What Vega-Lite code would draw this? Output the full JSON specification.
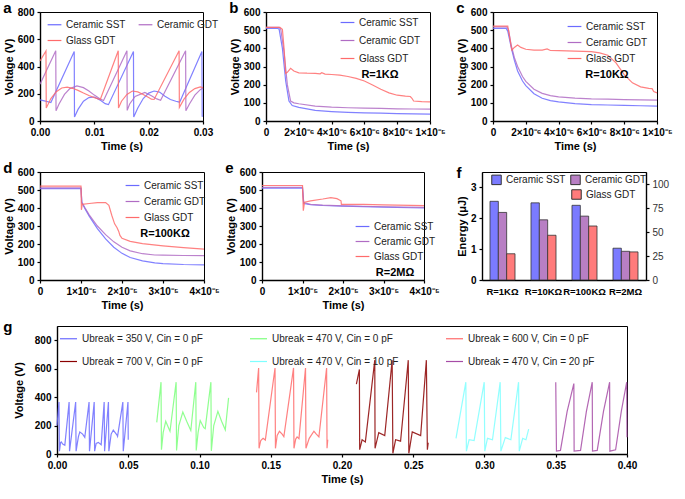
{
"$schema": "https://vega.github.io/schema/vega-lite/v6.json",
"padding": {"left": 2, "top": 0, "right": 2, "bottom": 2},
"config": {
  "font": "Liberation Sans",
  "view": {"stroke": "black", "strokeWidth": 1},
  "axis": {"domainColor": "black", "domainWidth": 1.4, "tickColor": "black", "tickSize": 3, "tickWidth": 1.2, "labelFont": "Liberation Sans", "labelFontSize": 10, "labelFontWeight": "bold", "labelColor": "black", "titleFont": "Liberation Sans", "titleFontSize": 11, "titleFontWeight": "bold", "titleColor": "black", "grid": false, "labelPadding": 3, "titlePadding": 3, "labelFlush": false, "labelOverlap": false},
  "legend": {"labelFont": "Liberation Sans", "labelFontSize": 10, "labelColor": "#222", "symbolType": "stroke", "symbolStrokeWidth": 1.5, "symbolSize": 190, "rowPadding": 4, "padding": 0, "titleFont": "Liberation Sans", "titleFontSize": 11, "titleFontWeight": "bold", "titleColor": "black", "titleOrient": "bottom", "titleAnchor": "middle", "titlePadding": 5},
  "title": {"anchor": "start", "frame": "bounds", "fontSize": 15, "fontWeight": "bold", "font": "Liberation Sans", "offset": 0, "baseline": "alphabetic", "dy": 13, "color": "black"},
  "line": {"strokeWidth": 1.2, "opacity": 0.85}
},
"datasets": {
  "a": [
    {"t":0,"v":155,"s":"Ceramic SST"},{"t":0.001,"v":146,"s":"Ceramic SST"},{"t":0.002,"v":136,"s":"Ceramic SST"},{"t":0.0063,"v":510,"s":"Ceramic SST"},{"t":0.00635,"v":30,"s":"Ceramic SST"},{"t":0.007,"v":85,"s":"Ceramic SST"},{"t":0.008,"v":145,"s":"Ceramic SST"},{"t":0.009,"v":172,"s":"Ceramic SST"},{"t":0.010,"v":176,"s":"Ceramic SST"},{"t":0.011,"v":155,"s":"Ceramic SST"},{"t":0.012,"v":127,"s":"Ceramic SST"},{"t":0.0126,"v":120,"s":"Ceramic SST"},{"t":0.0172,"v":510,"s":"Ceramic SST"},{"t":0.01725,"v":30,"s":"Ceramic SST"},{"t":0.018,"v":95,"s":"Ceramic SST"},{"t":0.019,"v":165,"s":"Ceramic SST"},{"t":0.020,"v":205,"s":"Ceramic SST"},{"t":0.021,"v":220,"s":"Ceramic SST"},{"t":0.022,"v":212,"s":"Ceramic SST"},{"t":0.023,"v":182,"s":"Ceramic SST"},{"t":0.024,"v":158,"s":"Ceramic SST"},{"t":0.025,"v":145,"s":"Ceramic SST"},{"t":0.0257,"v":138,"s":"Ceramic SST"},{"t":0.0298,"v":510,"s":"Ceramic SST"},{"t":0.02985,"v":35,"s":"Ceramic SST"},{"t":0.030,"v":35,"s":"Ceramic SST"},
    {"t":0,"v":270,"s":"Ceramic GDT"},{"t":0.0029,"v":515,"s":"Ceramic GDT"},{"t":0.00295,"v":75,"s":"Ceramic GDT"},{"t":0.0035,"v":125,"s":"Ceramic GDT"},{"t":0.0045,"v":195,"s":"Ceramic GDT"},{"t":0.0055,"v":238,"s":"Ceramic GDT"},{"t":0.0068,"v":258,"s":"Ceramic GDT"},{"t":0.008,"v":245,"s":"Ceramic GDT"},{"t":0.009,"v":220,"s":"Ceramic GDT"},{"t":0.010,"v":190,"s":"Ceramic GDT"},{"t":0.011,"v":163,"s":"Ceramic GDT"},{"t":0.0117,"v":150,"s":"Ceramic GDT"},{"t":0.016,"v":515,"s":"Ceramic GDT"},{"t":0.01605,"v":78,"s":"Ceramic GDT"},{"t":0.0165,"v":125,"s":"Ceramic GDT"},{"t":0.0175,"v":180,"s":"Ceramic GDT"},{"t":0.0193,"v":210,"s":"Ceramic GDT"},{"t":0.0205,"v":185,"s":"Ceramic GDT"},{"t":0.0215,"v":162,"s":"Ceramic GDT"},{"t":0.0222,"v":152,"s":"Ceramic GDT"},{"t":0.0268,"v":515,"s":"Ceramic GDT"},{"t":0.02685,"v":75,"s":"Ceramic GDT"},{"t":0.0275,"v":125,"s":"Ceramic GDT"},{"t":0.0285,"v":190,"s":"Ceramic GDT"},{"t":0.0295,"v":230,"s":"Ceramic GDT"},{"t":0.030,"v":242,"s":"Ceramic GDT"},
    {"t":0,"v":440,"s":"Glass GDT"},{"t":0.0011,"v":515,"s":"Glass GDT"},{"t":0.00115,"v":95,"s":"Glass GDT"},{"t":0.002,"v":165,"s":"Glass GDT"},{"t":0.003,"v":215,"s":"Glass GDT"},{"t":0.004,"v":242,"s":"Glass GDT"},{"t":0.005,"v":248,"s":"Glass GDT"},{"t":0.006,"v":240,"s":"Glass GDT"},{"t":0.007,"v":225,"s":"Glass GDT"},{"t":0.008,"v":205,"s":"Glass GDT"},{"t":0.009,"v":187,"s":"Glass GDT"},{"t":0.010,"v":172,"s":"Glass GDT"},{"t":0.0111,"v":158,"s":"Glass GDT"},{"t":0.0144,"v":515,"s":"Glass GDT"},{"t":0.01445,"v":95,"s":"Glass GDT"},{"t":0.015,"v":145,"s":"Glass GDT"},{"t":0.016,"v":195,"s":"Glass GDT"},{"t":0.017,"v":220,"s":"Glass GDT"},{"t":0.018,"v":214,"s":"Glass GDT"},{"t":0.019,"v":195,"s":"Glass GDT"},{"t":0.020,"v":172,"s":"Glass GDT"},{"t":0.0205,"v":160,"s":"Glass GDT"},{"t":0.021,"v":158,"s":"Glass GDT"},{"t":0.0256,"v":515,"s":"Glass GDT"},{"t":0.02565,"v":100,"s":"Glass GDT"},{"t":0.0265,"v":160,"s":"Glass GDT"},{"t":0.0275,"v":210,"s":"Glass GDT"},{"t":0.0285,"v":238,"s":"Glass GDT"},{"t":0.0295,"v":250,"s":"Glass GDT"},{"t":0.030,"v":245,"s":"Glass GDT"}
  ],
  "b": [
    {"t":0,"v":510,"s":"Ceramic SST"},{"t":0.7e-6,"v":510,"s":"Ceramic SST"},{"t":0.8e-6,"v":505,"s":"Ceramic SST"},{"t":1.0e-6,"v":400,"s":"Ceramic SST"},{"t":1.2e-6,"v":220,"s":"Ceramic SST"},{"t":1.4e-6,"v":110,"s":"Ceramic SST"},{"t":1.6e-6,"v":85,"s":"Ceramic SST"},{"t":2e-6,"v":75,"s":"Ceramic SST"},{"t":3e-6,"v":58,"s":"Ceramic SST"},{"t":4e-6,"v":52,"s":"Ceramic SST"},{"t":5e-6,"v":48,"s":"Ceramic SST"},{"t":6e-6,"v":45,"s":"Ceramic SST"},{"t":7e-6,"v":43,"s":"Ceramic SST"},{"t":8e-6,"v":41,"s":"Ceramic SST"},{"t":9e-6,"v":39,"s":"Ceramic SST"},{"t":1e-5,"v":38,"s":"Ceramic SST"},
    {"t":0,"v":515,"s":"Ceramic GDT"},{"t":0.8e-6,"v":515,"s":"Ceramic GDT"},{"t":0.9e-6,"v":505,"s":"Ceramic GDT"},{"t":1.1e-6,"v":380,"s":"Ceramic GDT"},{"t":1.3e-6,"v":200,"s":"Ceramic GDT"},{"t":1.5e-6,"v":110,"s":"Ceramic GDT"},{"t":1.7e-6,"v":100,"s":"Ceramic GDT"},{"t":2e-6,"v":95,"s":"Ceramic GDT"},{"t":3e-6,"v":82,"s":"Ceramic GDT"},{"t":4e-6,"v":76,"s":"Ceramic GDT"},{"t":5e-6,"v":73,"s":"Ceramic GDT"},{"t":6e-6,"v":71,"s":"Ceramic GDT"},{"t":7e-6,"v":69,"s":"Ceramic GDT"},{"t":8e-6,"v":67,"s":"Ceramic GDT"},{"t":9e-6,"v":66,"s":"Ceramic GDT"},{"t":1e-5,"v":65,"s":"Ceramic GDT"},
    {"t":0,"v":515,"s":"Glass GDT"},{"t":0.85e-6,"v":515,"s":"Glass GDT"},{"t":1.0e-6,"v":505,"s":"Glass GDT"},{"t":1.1e-6,"v":400,"s":"Glass GDT"},{"t":1.2e-6,"v":262,"s":"Glass GDT"},{"t":1.3e-6,"v":268,"s":"Glass GDT"},{"t":1.5e-6,"v":290,"s":"Glass GDT"},{"t":1.7e-6,"v":275,"s":"Glass GDT"},{"t":2e-6,"v":265,"s":"Glass GDT"},{"t":2.5e-6,"v":263,"s":"Glass GDT"},{"t":3e-6,"v":262,"s":"Glass GDT"},{"t":3.3e-6,"v":260,"s":"Glass GDT"},{"t":3.4e-6,"v":266,"s":"Glass GDT"},{"t":3.6e-6,"v":258,"s":"Glass GDT"},{"t":4e-6,"v":256,"s":"Glass GDT"},{"t":4.5e-6,"v":252,"s":"Glass GDT"},{"t":5e-6,"v":245,"s":"Glass GDT"},{"t":5.5e-6,"v":235,"s":"Glass GDT"},{"t":6e-6,"v":220,"s":"Glass GDT"},{"t":6.5e-6,"v":198,"s":"Glass GDT"},{"t":7e-6,"v":175,"s":"Glass GDT"},{"t":7.5e-6,"v":155,"s":"Glass GDT"},{"t":8e-6,"v":142,"s":"Glass GDT"},{"t":8.5e-6,"v":137,"s":"Glass GDT"},{"t":8.8e-6,"v":135,"s":"Glass GDT"},{"t":8.9e-6,"v":125,"s":"Glass GDT"},{"t":9e-6,"v":110,"s":"Glass GDT"},{"t":9.5e-6,"v":107,"s":"Glass GDT"},{"t":1e-5,"v":105,"s":"Glass GDT"}
  ],
  "c": [
    {"t":0,"v":510,"s":"Ceramic SST"},{"t":0.8e-6,"v":510,"s":"Ceramic SST"},{"t":0.9e-6,"v":495,"s":"Ceramic SST"},{"t":1.1e-6,"v":410,"s":"Ceramic SST"},{"t":1.3e-6,"v":335,"s":"Ceramic SST"},{"t":1.5e-6,"v":275,"s":"Ceramic SST"},{"t":1.8e-6,"v":220,"s":"Ceramic SST"},{"t":2e-6,"v":195,"s":"Ceramic SST"},{"t":2.5e-6,"v":150,"s":"Ceramic SST"},{"t":3e-6,"v":125,"s":"Ceramic SST"},{"t":3.5e-6,"v":112,"s":"Ceramic SST"},{"t":4e-6,"v":105,"s":"Ceramic SST"},{"t":5e-6,"v":96,"s":"Ceramic SST"},{"t":6e-6,"v":90,"s":"Ceramic SST"},{"t":7e-6,"v":88,"s":"Ceramic SST"},{"t":8e-6,"v":86,"s":"Ceramic SST"},{"t":9e-6,"v":84,"s":"Ceramic SST"},{"t":1e-5,"v":82,"s":"Ceramic SST"},
    {"t":0,"v":518,"s":"Ceramic GDT"},{"t":0.85e-6,"v":518,"s":"Ceramic GDT"},{"t":0.95e-6,"v":500,"s":"Ceramic GDT"},{"t":1.1e-6,"v":420,"s":"Ceramic GDT"},{"t":1.3e-6,"v":350,"s":"Ceramic GDT"},{"t":1.5e-6,"v":300,"s":"Ceramic GDT"},{"t":1.8e-6,"v":245,"s":"Ceramic GDT"},{"t":2e-6,"v":218,"s":"Ceramic GDT"},{"t":2.5e-6,"v":175,"s":"Ceramic GDT"},{"t":3e-6,"v":152,"s":"Ceramic GDT"},{"t":3.5e-6,"v":140,"s":"Ceramic GDT"},{"t":4e-6,"v":133,"s":"Ceramic GDT"},{"t":5e-6,"v":126,"s":"Ceramic GDT"},{"t":6e-6,"v":122,"s":"Ceramic GDT"},{"t":7e-6,"v":120,"s":"Ceramic GDT"},{"t":8e-6,"v":118,"s":"Ceramic GDT"},{"t":9e-6,"v":116,"s":"Ceramic GDT"},{"t":1e-5,"v":115,"s":"Ceramic GDT"},
    {"t":0,"v":522,"s":"Glass GDT"},{"t":0.9e-6,"v":522,"s":"Glass GDT"},{"t":1.0e-6,"v":470,"s":"Glass GDT"},{"t":1.15e-6,"v":390,"s":"Glass GDT"},{"t":1.3e-6,"v":405,"s":"Glass GDT"},{"t":1.5e-6,"v":418,"s":"Glass GDT"},{"t":1.7e-6,"v":405,"s":"Glass GDT"},{"t":2e-6,"v":395,"s":"Glass GDT"},{"t":2.5e-6,"v":390,"s":"Glass GDT"},{"t":3e-6,"v":390,"s":"Glass GDT"},{"t":3.3e-6,"v":397,"s":"Glass GDT"},{"t":3.5e-6,"v":388,"s":"Glass GDT"},{"t":4e-6,"v":387,"s":"Glass GDT"},{"t":5e-6,"v":385,"s":"Glass GDT"},{"t":6e-6,"v":382,"s":"Glass GDT"},{"t":6.5e-6,"v":375,"s":"Glass GDT"},{"t":7e-6,"v":362,"s":"Glass GDT"},{"t":7.5e-6,"v":320,"s":"Glass GDT"},{"t":8e-6,"v":255,"s":"Glass GDT"},{"t":8.5e-6,"v":210,"s":"Glass GDT"},{"t":9e-6,"v":188,"s":"Glass GDT"},{"t":9.5e-6,"v":180,"s":"Glass GDT"},{"t":9.7e-6,"v":178,"s":"Glass GDT"},{"t":9.8e-6,"v":162,"s":"Glass GDT"},{"t":1e-5,"v":155,"s":"Glass GDT"}
  ],
  "d": [
    {"t":0,"v":508,"s":"Ceramic SST"},{"t":1e-5,"v":508,"s":"Ceramic SST"},{"t":1.02e-5,"v":430,"s":"Ceramic SST"},{"t":1.1e-5,"v":395,"s":"Ceramic SST"},{"t":1.2e-5,"v":355,"s":"Ceramic SST"},{"t":1.4e-5,"v":285,"s":"Ceramic SST"},{"t":1.6e-5,"v":228,"s":"Ceramic SST"},{"t":1.8e-5,"v":182,"s":"Ceramic SST"},{"t":2e-5,"v":148,"s":"Ceramic SST"},{"t":2.2e-5,"v":125,"s":"Ceramic SST"},{"t":2.5e-5,"v":106,"s":"Ceramic SST"},{"t":2.8e-5,"v":95,"s":"Ceramic SST"},{"t":3e-5,"v":91,"s":"Ceramic SST"},{"t":3.5e-5,"v":86,"s":"Ceramic SST"},{"t":4e-5,"v":84,"s":"Ceramic SST"},
    {"t":0,"v":512,"s":"Ceramic GDT"},{"t":1e-5,"v":512,"s":"Ceramic GDT"},{"t":1.02e-5,"v":432,"s":"Ceramic GDT"},{"t":1.1e-5,"v":400,"s":"Ceramic GDT"},{"t":1.2e-5,"v":362,"s":"Ceramic GDT"},{"t":1.4e-5,"v":300,"s":"Ceramic GDT"},{"t":1.6e-5,"v":252,"s":"Ceramic GDT"},{"t":1.8e-5,"v":212,"s":"Ceramic GDT"},{"t":2e-5,"v":182,"s":"Ceramic GDT"},{"t":2.2e-5,"v":162,"s":"Ceramic GDT"},{"t":2.5e-5,"v":146,"s":"Ceramic GDT"},{"t":2.8e-5,"v":139,"s":"Ceramic GDT"},{"t":3e-5,"v":138,"s":"Ceramic GDT"},{"t":3.5e-5,"v":136,"s":"Ceramic GDT"},{"t":4e-5,"v":135,"s":"Ceramic GDT"},
    {"t":0,"v":522,"s":"Glass GDT"},{"t":1e-5,"v":522,"s":"Glass GDT"},{"t":1.01e-5,"v":390,"s":"Glass GDT"},{"t":1.03e-5,"v":420,"s":"Glass GDT"},{"t":1.2e-5,"v":425,"s":"Glass GDT"},{"t":1.4e-5,"v":430,"s":"Glass GDT"},{"t":1.6e-5,"v":430,"s":"Glass GDT"},{"t":1.68e-5,"v":415,"s":"Glass GDT"},{"t":1.75e-5,"v":360,"s":"Glass GDT"},{"t":1.82e-5,"v":312,"s":"Glass GDT"},{"t":1.88e-5,"v":290,"s":"Glass GDT"},{"t":1.92e-5,"v":270,"s":"Glass GDT"},{"t":1.95e-5,"v":248,"s":"Glass GDT"},{"t":2e-5,"v":232,"s":"Glass GDT"},{"t":2.2e-5,"v":215,"s":"Glass GDT"},{"t":2.5e-5,"v":202,"s":"Glass GDT"},{"t":3e-5,"v":190,"s":"Glass GDT"},{"t":3.5e-5,"v":180,"s":"Glass GDT"},{"t":4e-5,"v":172,"s":"Glass GDT"}
  ],
  "e": [
    {"t":0,"v":510,"s":"Ceramic SST"},{"t":1e-5,"v":510,"s":"Ceramic SST"},{"t":1.03e-5,"v":425,"s":"Ceramic SST"},{"t":1.2e-5,"v":418,"s":"Ceramic SST"},{"t":1.5e-5,"v":414,"s":"Ceramic SST"},{"t":2e-5,"v":410,"s":"Ceramic SST"},{"t":3e-5,"v":405,"s":"Ceramic SST"},{"t":4e-5,"v":400,"s":"Ceramic SST"},
    {"t":0,"v":515,"s":"Ceramic GDT"},{"t":1e-5,"v":515,"s":"Ceramic GDT"},{"t":1.03e-5,"v":430,"s":"Ceramic GDT"},{"t":1.2e-5,"v":420,"s":"Ceramic GDT"},{"t":1.5e-5,"v":416,"s":"Ceramic GDT"},{"t":2e-5,"v":412,"s":"Ceramic GDT"},{"t":3e-5,"v":407,"s":"Ceramic GDT"},{"t":4e-5,"v":403,"s":"Ceramic GDT"},
    {"t":0,"v":525,"s":"Glass GDT"},{"t":1e-5,"v":525,"s":"Glass GDT"},{"t":1.02e-5,"v":385,"s":"Glass GDT"},{"t":1.05e-5,"v":432,"s":"Glass GDT"},{"t":1.2e-5,"v":440,"s":"Glass GDT"},{"t":1.5e-5,"v":450,"s":"Glass GDT"},{"t":1.7e-5,"v":458,"s":"Glass GDT"},{"t":1.85e-5,"v":452,"s":"Glass GDT"},{"t":1.95e-5,"v":440,"s":"Glass GDT"},{"t":1.96e-5,"v":420,"s":"Glass GDT"},{"t":2.5e-5,"v":420,"s":"Glass GDT"},{"t":3e-5,"v":417,"s":"Glass GDT"},{"t":4e-5,"v":413,"s":"Glass GDT"}
  ],
  "f": [
    {"r":"R=1KΩ","s":"Ceramic SST","e":2.55},{"r":"R=1KΩ","s":"Ceramic GDT","e":2.19},{"r":"R=1KΩ","s":"Glass GDT","e":0.85},
    {"r":"R=10KΩ","s":"Ceramic SST","e":2.5},{"r":"R=10KΩ","s":"Ceramic GDT","e":1.95},{"r":"R=10KΩ","s":"Glass GDT","e":1.45},
    {"r":"R=100KΩ","s":"Ceramic SST","e":2.42},{"r":"R=100KΩ","s":"Ceramic GDT","e":2.07},{"r":"R=100KΩ","s":"Glass GDT","e":1.75},
    {"r":"R=2MΩ","s":"Ceramic SST","e":1.03},{"r":"R=2MΩ","s":"Ceramic GDT","e":0.93},{"r":"R=2MΩ","s":"Glass GDT","e":0.91}
  ],
  "g": [
    {"t":0,"v":200,"s":"Ubreak = 350 V, Cin = 0 pF"},{"t":0.0014,"v":365,"s":"Ubreak = 350 V, Cin = 0 pF"},{"t":0.0017,"v":20,"s":"Ubreak = 350 V, Cin = 0 pF"},{"t":0.0025,"v":80,"s":"Ubreak = 350 V, Cin = 0 pF"},{"t":0.003,"v":85,"s":"Ubreak = 350 V, Cin = 0 pF"},{"t":0.004,"v":70,"s":"Ubreak = 350 V, Cin = 0 pF"},{"t":0.0055,"v":62,"s":"Ubreak = 350 V, Cin = 0 pF"},{"t":0.0085,"v":365,"s":"Ubreak = 350 V, Cin = 0 pF"},{"t":0.0088,"v":20,"s":"Ubreak = 350 V, Cin = 0 pF"},{"t":0.0131,"v":365,"s":"Ubreak = 350 V, Cin = 0 pF"},{"t":0.0134,"v":20,"s":"Ubreak = 350 V, Cin = 0 pF"},{"t":0.015,"v":120,"s":"Ubreak = 350 V, Cin = 0 pF"},{"t":0.016,"v":155,"s":"Ubreak = 350 V, Cin = 0 pF"},{"t":0.018,"v":140,"s":"Ubreak = 350 V, Cin = 0 pF"},{"t":0.0195,"v":117,"s":"Ubreak = 350 V, Cin = 0 pF"},{"t":0.0225,"v":365,"s":"Ubreak = 350 V, Cin = 0 pF"},{"t":0.0228,"v":20,"s":"Ubreak = 350 V, Cin = 0 pF"},{"t":0.0261,"v":365,"s":"Ubreak = 350 V, Cin = 0 pF"},{"t":0.0264,"v":20,"s":"Ubreak = 350 V, Cin = 0 pF"},{"t":0.0275,"v":75,"s":"Ubreak = 350 V, Cin = 0 pF"},{"t":0.029,"v":82,"s":"Ubreak = 350 V, Cin = 0 pF"},{"t":0.031,"v":65,"s":"Ubreak = 350 V, Cin = 0 pF"},{"t":0.0331,"v":365,"s":"Ubreak = 350 V, Cin = 0 pF"},{"t":0.0334,"v":20,"s":"Ubreak = 350 V, Cin = 0 pF"},{"t":0.0361,"v":365,"s":"Ubreak = 350 V, Cin = 0 pF"},{"t":0.0364,"v":20,"s":"Ubreak = 350 V, Cin = 0 pF"},{"t":0.038,"v":140,"s":"Ubreak = 350 V, Cin = 0 pF"},{"t":0.0395,"v":168,"s":"Ubreak = 350 V, Cin = 0 pF"},{"t":0.042,"v":135,"s":"Ubreak = 350 V, Cin = 0 pF"},{"t":0.0425,"v":124,"s":"Ubreak = 350 V, Cin = 0 pF"},{"t":0.0462,"v":365,"s":"Ubreak = 350 V, Cin = 0 pF"},{"t":0.0465,"v":20,"s":"Ubreak = 350 V, Cin = 0 pF"},{"t":0.0498,"v":365,"s":"Ubreak = 350 V, Cin = 0 pF"},{"t":0.05,"v":100,"s":"Ubreak = 350 V, Cin = 0 pF"},
    {"t":0.07,"v":222,"s":"Ubreak = 470 V, Cin = 0 pF"},{"t":0.073,"v":505,"s":"Ubreak = 470 V, Cin = 0 pF"},{"t":0.0733,"v":30,"s":"Ubreak = 470 V, Cin = 0 pF"},{"t":0.0745,"v":150,"s":"Ubreak = 470 V, Cin = 0 pF"},{"t":0.0763,"v":230,"s":"Ubreak = 470 V, Cin = 0 pF"},{"t":0.078,"v":190,"s":"Ubreak = 470 V, Cin = 0 pF"},{"t":0.0793,"v":160,"s":"Ubreak = 470 V, Cin = 0 pF"},{"t":0.0836,"v":505,"s":"Ubreak = 470 V, Cin = 0 pF"},{"t":0.0839,"v":25,"s":"Ubreak = 470 V, Cin = 0 pF"},{"t":0.0855,"v":200,"s":"Ubreak = 470 V, Cin = 0 pF"},{"t":0.0883,"v":295,"s":"Ubreak = 470 V, Cin = 0 pF"},{"t":0.091,"v":230,"s":"Ubreak = 470 V, Cin = 0 pF"},{"t":0.0939,"v":165,"s":"Ubreak = 470 V, Cin = 0 pF"},{"t":0.0974,"v":505,"s":"Ubreak = 470 V, Cin = 0 pF"},{"t":0.0977,"v":25,"s":"Ubreak = 470 V, Cin = 0 pF"},{"t":0.099,"v":150,"s":"Ubreak = 470 V, Cin = 0 pF"},{"t":0.1005,"v":235,"s":"Ubreak = 470 V, Cin = 0 pF"},{"t":0.103,"v":185,"s":"Ubreak = 470 V, Cin = 0 pF"},{"t":0.104,"v":178,"s":"Ubreak = 470 V, Cin = 0 pF"},{"t":0.108,"v":505,"s":"Ubreak = 470 V, Cin = 0 pF"},{"t":0.1083,"v":22,"s":"Ubreak = 470 V, Cin = 0 pF"},{"t":0.11,"v":200,"s":"Ubreak = 470 V, Cin = 0 pF"},{"t":0.1129,"v":300,"s":"Ubreak = 470 V, Cin = 0 pF"},{"t":0.1155,"v":230,"s":"Ubreak = 470 V, Cin = 0 pF"},{"t":0.1181,"v":170,"s":"Ubreak = 470 V, Cin = 0 pF"},{"t":0.1204,"v":395,"s":"Ubreak = 470 V, Cin = 0 pF"},
    {"t":0.14,"v":433,"s":"Ubreak = 600 V, Cin = 0 pF"},{"t":0.1415,"v":605,"s":"Ubreak = 600 V, Cin = 0 pF"},{"t":0.1418,"v":40,"s":"Ubreak = 600 V, Cin = 0 pF"},{"t":0.143,"v":95,"s":"Ubreak = 600 V, Cin = 0 pF"},{"t":0.1446,"v":110,"s":"Ubreak = 600 V, Cin = 0 pF"},{"t":0.1462,"v":98,"s":"Ubreak = 600 V, Cin = 0 pF"},{"t":0.153,"v":605,"s":"Ubreak = 600 V, Cin = 0 pF"},{"t":0.1533,"v":40,"s":"Ubreak = 600 V, Cin = 0 pF"},{"t":0.1545,"v":130,"s":"Ubreak = 600 V, Cin = 0 pF"},{"t":0.1561,"v":160,"s":"Ubreak = 600 V, Cin = 0 pF"},{"t":0.158,"v":140,"s":"Ubreak = 600 V, Cin = 0 pF"},{"t":0.1592,"v":122,"s":"Ubreak = 600 V, Cin = 0 pF"},{"t":0.166,"v":605,"s":"Ubreak = 600 V, Cin = 0 pF"},{"t":0.1663,"v":40,"s":"Ubreak = 600 V, Cin = 0 pF"},{"t":0.1675,"v":105,"s":"Ubreak = 600 V, Cin = 0 pF"},{"t":0.1685,"v":120,"s":"Ubreak = 600 V, Cin = 0 pF"},{"t":0.1698,"v":108,"s":"Ubreak = 600 V, Cin = 0 pF"},{"t":0.1744,"v":605,"s":"Ubreak = 600 V, Cin = 0 pF"},{"t":0.1747,"v":40,"s":"Ubreak = 600 V, Cin = 0 pF"},{"t":0.177,"v":110,"s":"Ubreak = 600 V, Cin = 0 pF"},{"t":0.1803,"v":160,"s":"Ubreak = 600 V, Cin = 0 pF"},{"t":0.182,"v":140,"s":"Ubreak = 600 V, Cin = 0 pF"},{"t":0.1838,"v":120,"s":"Ubreak = 600 V, Cin = 0 pF"},{"t":0.1892,"v":605,"s":"Ubreak = 600 V, Cin = 0 pF"},{"t":0.1895,"v":40,"s":"Ubreak = 600 V, Cin = 0 pF"},{"t":0.19,"v":100,"s":"Ubreak = 600 V, Cin = 0 pF"},
    {"t":0.2101,"v":491,"s":"Ubreak = 700 V, Cin = 0 pF"},{"t":0.2122,"v":595,"s":"Ubreak = 700 V, Cin = 0 pF"},{"t":0.2124,"v":30,"s":"Ubreak = 700 V, Cin = 0 pF"},{"t":0.2141,"v":100,"s":"Ubreak = 700 V, Cin = 0 pF"},{"t":0.2164,"v":85,"s":"Ubreak = 700 V, Cin = 0 pF"},{"t":0.223,"v":660,"s":"Ubreak = 700 V, Cin = 0 pF"},{"t":0.2232,"v":40,"s":"Ubreak = 700 V, Cin = 0 pF"},{"t":0.2258,"v":150,"s":"Ubreak = 700 V, Cin = 0 pF"},{"t":0.23,"v":130,"s":"Ubreak = 700 V, Cin = 0 pF"},{"t":0.2352,"v":660,"s":"Ubreak = 700 V, Cin = 0 pF"},{"t":0.2357,"v":5,"s":"Ubreak = 700 V, Cin = 0 pF"},{"t":0.2376,"v":100,"s":"Ubreak = 700 V, Cin = 0 pF"},{"t":0.2411,"v":90,"s":"Ubreak = 700 V, Cin = 0 pF"},{"t":0.2465,"v":660,"s":"Ubreak = 700 V, Cin = 0 pF"},{"t":0.2469,"v":5,"s":"Ubreak = 700 V, Cin = 0 pF"},{"t":0.2493,"v":155,"s":"Ubreak = 700 V, Cin = 0 pF"},{"t":0.2552,"v":130,"s":"Ubreak = 700 V, Cin = 0 pF"},{"t":0.2592,"v":660,"s":"Ubreak = 700 V, Cin = 0 pF"},{"t":0.2599,"v":30,"s":"Ubreak = 700 V, Cin = 0 pF"},{"t":0.2605,"v":80,"s":"Ubreak = 700 V, Cin = 0 pF"},
    {"t":0.28,"v":110,"s":"Ubreak = 470 V, Cin = 10 pF"},{"t":0.2869,"v":505,"s":"Ubreak = 470 V, Cin = 10 pF"},{"t":0.2873,"v":20,"s":"Ubreak = 470 V, Cin = 10 pF"},{"t":0.2892,"v":100,"s":"Ubreak = 470 V, Cin = 10 pF"},{"t":0.2927,"v":95,"s":"Ubreak = 470 V, Cin = 10 pF"},{"t":0.2998,"v":505,"s":"Ubreak = 470 V, Cin = 10 pF"},{"t":0.3002,"v":20,"s":"Ubreak = 470 V, Cin = 10 pF"},{"t":0.3021,"v":110,"s":"Ubreak = 470 V, Cin = 10 pF"},{"t":0.3056,"v":100,"s":"Ubreak = 470 V, Cin = 10 pF"},{"t":0.311,"v":505,"s":"Ubreak = 470 V, Cin = 10 pF"},{"t":0.3115,"v":20,"s":"Ubreak = 470 V, Cin = 10 pF"},{"t":0.3146,"v":115,"s":"Ubreak = 470 V, Cin = 10 pF"},{"t":0.3185,"v":100,"s":"Ubreak = 470 V, Cin = 10 pF"},{"t":0.3239,"v":505,"s":"Ubreak = 470 V, Cin = 10 pF"},{"t":0.3244,"v":20,"s":"Ubreak = 470 V, Cin = 10 pF"},{"t":0.3268,"v":110,"s":"Ubreak = 470 V, Cin = 10 pF"},{"t":0.3291,"v":100,"s":"Ubreak = 470 V, Cin = 10 pF"},{"t":0.331,"v":175,"s":"Ubreak = 470 V, Cin = 10 pF"},
    {"t":0.35,"v":505,"s":"Ubreak = 470 V, Cin = 20 pF"},{"t":0.3505,"v":20,"s":"Ubreak = 470 V, Cin = 20 pF"},{"t":0.3533,"v":25,"s":"Ubreak = 470 V, Cin = 20 pF"},{"t":0.358,"v":300,"s":"Ubreak = 470 V, Cin = 20 pF"},{"t":0.3627,"v":495,"s":"Ubreak = 470 V, Cin = 20 pF"},{"t":0.3629,"v":20,"s":"Ubreak = 470 V, Cin = 20 pF"},{"t":0.3674,"v":25,"s":"Ubreak = 470 V, Cin = 20 pF"},{"t":0.3715,"v":300,"s":"Ubreak = 470 V, Cin = 20 pF"},{"t":0.3756,"v":505,"s":"Ubreak = 470 V, Cin = 20 pF"},{"t":0.3758,"v":20,"s":"Ubreak = 470 V, Cin = 20 pF"},{"t":0.3791,"v":25,"s":"Ubreak = 470 V, Cin = 20 pF"},{"t":0.3835,"v":300,"s":"Ubreak = 470 V, Cin = 20 pF"},{"t":0.3878,"v":505,"s":"Ubreak = 470 V, Cin = 20 pF"},{"t":0.388,"v":20,"s":"Ubreak = 470 V, Cin = 20 pF"},{"t":0.392,"v":30,"s":"Ubreak = 470 V, Cin = 20 pF"},{"t":0.396,"v":300,"s":"Ubreak = 470 V, Cin = 20 pF"},{"t":0.3998,"v":505,"s":"Ubreak = 470 V, Cin = 20 pF"},{"t":0.4,"v":117,"s":"Ubreak = 470 V, Cin = 20 pF"}
  ]
},
"concat": [
  {"hconcat": [
    {"title": "a", "width": 163, "height": 109, "data": {"name": "a"},
     "mark": {"type": "line"},
     "encoding": {
       "x": {"field": "t", "type": "quantitative", "title": "Time (s)", "scale": {"domain": [0, 0.03], "nice": false}, "axis": {"values": [0, 0.01, 0.02, 0.03], "format": ".2f"}},
       "y": {"field": "v", "type": "quantitative", "title": "Voltage (V)", "scale": {"domain": [0, 800], "nice": false}, "axis": {"values": [0, 200, 400, 600, 800]}},
       "color": {"field": "s", "type": "nominal", "sort": null, "scale": {"domain": ["Ceramic SST", "Glass GDT", "Ceramic GDT"], "range": ["#6b6bff", "#ff6b6b", "#b06cc4"]}, "legend": {"title": null, "orient": "none", "legendX": 7, "legendY": 5, "columns": 2, "columnPadding": 10, "rowPadding": 3}}
     }},
    {"title": "b", "width": 164, "height": 109, "data": {"name": "b"},
     "mark": {"type": "line"},
     "encoding": {
       "x": {"field": "t", "type": "quantitative", "title": "Time (s)", "scale": {"domain": [0, 1e-5], "nice": false}, "axis": {"values": [0, 2e-6, 4e-6, 6e-6, 8e-6, 1e-5], "labelExpr": "datum.value < 1e-12 ? '0' : datum.value > 9.9e-6 ? '1×10⁻⁵' : round(datum.value * 1e6) + '×10⁻⁶'"}},
       "y": {"field": "v", "type": "quantitative", "title": "Voltage (V)", "scale": {"domain": [0, 600], "nice": false}, "axis": {"values": [0, 100, 200, 300, 400, 500, 600]}},
       "color": {"field": "s", "type": "nominal", "sort": null, "scale": {"domain": ["Ceramic SST", "Ceramic GDT", "Glass GDT"], "range": ["#6b6bff", "#b06cc4", "#ff6b6b"]}, "legend": {"title": "R=1KΩ", "orient": "none", "legendX": 74, "legendY": 3, "rowPadding": 5}}
     }},
    {"title": "c", "width": 164, "height": 109, "data": {"name": "c"},
     "mark": {"type": "line"},
     "encoding": {
       "x": {"field": "t", "type": "quantitative", "title": "Time (s)", "scale": {"domain": [0, 1e-5], "nice": false}, "axis": {"values": [0, 2e-6, 4e-6, 6e-6, 8e-6, 1e-5], "labelExpr": "datum.value < 1e-12 ? '0' : datum.value > 9.9e-6 ? '1×10⁻⁵' : round(datum.value * 1e6) + '×10⁻⁶'"}},
       "y": {"field": "v", "type": "quantitative", "title": "Voltage (V)", "scale": {"domain": [0, 600], "nice": false}, "axis": {"values": [0, 100, 200, 300, 400, 500, 600]}},
       "color": {"field": "s", "type": "nominal", "sort": null, "scale": {"domain": ["Ceramic SST", "Ceramic GDT", "Glass GDT"], "range": ["#6b6bff", "#b06cc4", "#ff6b6b"]}, "legend": {"title": "R=10KΩ", "orient": "none", "legendX": 74, "legendY": 7, "rowPadding": 3}}
     }}
  ], "spacing": 63, "bounds": "flush", "resolve": {"scale": {"color": "independent"}, "legend": {"color": "independent"}}},
  {"hconcat": [
    {"title": "d", "width": 164, "height": 108, "data": {"name": "d"},
     "mark": {"type": "line"},
     "encoding": {
       "x": {"field": "t", "type": "quantitative", "title": "Time (s)", "scale": {"domain": [0, 4e-5], "nice": false}, "axis": {"values": [0, 1e-5, 2e-5, 3e-5, 4e-5], "labelExpr": "datum.value < 1e-12 ? '0' : round(datum.value * 1e5) + '×10⁻⁵'"}},
       "y": {"field": "v", "type": "quantitative", "title": "Voltage (V)", "scale": {"domain": [0, 600], "nice": false}, "axis": {"values": [0, 100, 200, 300, 400, 500, 600]}},
       "color": {"field": "s", "type": "nominal", "sort": null, "scale": {"domain": ["Ceramic SST", "Ceramic GDT", "Glass GDT"], "range": ["#6b6bff", "#b06cc4", "#ff6b6b"]}, "legend": {"title": "R=100KΩ", "orient": "none", "legendX": 85, "legendY": 6, "rowPadding": 3}}
     }},
    {"title": "e", "width": 162, "height": 108, "data": {"name": "e"},
     "mark": {"type": "line"},
     "encoding": {
       "x": {"field": "t", "type": "quantitative", "title": "Time (s)", "scale": {"domain": [0, 4e-5], "nice": false}, "axis": {"values": [0, 1e-5, 2e-5, 3e-5, 4e-5], "labelExpr": "datum.value < 1e-12 ? '0' : round(datum.value * 1e5) + '×10⁻⁵'"}},
       "y": {"field": "v", "type": "quantitative", "title": "Voltage (V)", "scale": {"domain": [0, 600], "nice": false}, "axis": {"values": [0, 100, 200, 300, 400, 500, 600]}},
       "color": {"field": "s", "type": "nominal", "sort": null, "scale": {"domain": ["Ceramic SST", "Ceramic GDT", "Glass GDT"], "range": ["#6b6bff", "#b06cc4", "#ff6b6b"]}, "legend": {"title": "R=2MΩ", "orient": "none", "legendX": 93, "legendY": 47, "rowPadding": 2}}
     }},
    {"title": "f", "width": 164, "height": 108, "data": {"name": "f"},
     "layer": [
       {"transform": [{"filter": "datum.s !== 'Glass GDT'"}],
        "mark": {"type": "bar", "stroke": "#333", "strokeWidth": 0.8},
        "encoding": {
          "x": {"field": "r", "type": "nominal", "sort": null, "title": null, "scale": {"domain": ["R=1KΩ", "R=10KΩ", "R=100KΩ", "R=2MΩ"], "paddingInner": 0.39, "paddingOuter": 0.195}, "axis": {"labelAngle": 0, "ticks": false, "labelPadding": 6, "labelFontSize": 9.5}},
          "xOffset": {"field": "s", "type": "nominal", "sort": null, "scale": {"domain": ["Ceramic SST", "Ceramic GDT", "Glass GDT"]}},
          "y": {"field": "e", "type": "quantitative", "title": "Energy (μJ)", "scale": {"domain": [0, 3.5], "nice": false}, "axis": {"values": [0, 1, 2, 3], "orient": "left"}},
          "fill": {"field": "s", "type": "nominal", "sort": null, "scale": {"domain": ["Ceramic SST", "Ceramic GDT"], "range": ["#7b7bff", "#b87fc4"]}, "legend": {"title": null, "orient": "none", "legendX": 9, "legendY": 2, "columns": 2, "columnPadding": 2, "symbolType": "square", "symbolSize": 90, "symbolStrokeColor": "#333", "symbolStrokeWidth": 1}}
        }},
       {"transform": [{"filter": "datum.s === 'Glass GDT'"}],
        "mark": {"type": "bar", "stroke": "#333", "strokeWidth": 0.8},
        "encoding": {
          "x": {"field": "r", "type": "nominal", "sort": null, "title": null, "scale": {"domain": ["R=1KΩ", "R=10KΩ", "R=100KΩ", "R=2MΩ"], "paddingInner": 0.39, "paddingOuter": 0.195}, "axis": {"labelAngle": 0, "ticks": false, "labelPadding": 6, "labelFontSize": 9.5}},
          "xOffset": {"field": "s", "type": "nominal", "sort": null, "scale": {"domain": ["Ceramic SST", "Ceramic GDT", "Glass GDT"]}},
          "y": {"field": "e", "type": "quantitative", "scale": {"domain": [0, 3.5], "nice": false}, "axis": null},
          "fill": {"field": "s", "type": "nominal", "sort": null, "scale": {"domain": ["Glass GDT"], "range": ["#ff7b7b"]}, "legend": {"title": null, "orient": "none", "legendX": 89, "legendY": 17, "symbolType": "square", "symbolSize": 90, "symbolStrokeColor": "#333", "symbolStrokeWidth": 1}}
        }},
       {"mark": {"type": "rule", "opacity": 0},
        "encoding": {"y": {"datum": 0, "type": "quantitative", "title": "Release efficiency (%)", "scale": {"domain": [0, 112.5], "nice": false}, "axis": {"orient": "right", "values": [0, 25, 50, 75, 100], "labelFontWeight": "normal", "labelColor": "#333", "titleFontSize": 9.5}}}}
     ],
     "resolve": {"scale": {"y": "independent", "fill": "independent"}, "axis": {"y": "independent"}, "legend": {"fill": "independent"}}}
  ], "spacing": 58, "bounds": "flush", "resolve": {"scale": {"color": "independent", "fill": "independent"}, "legend": {"color": "independent", "fill": "independent"}}},
  {"hconcat": [
    {"width": 17, "height": 128, "data": {"values": []}, "mark": {"type": "point", "opacity": 0}, "view": {"stroke": null}},
    {"title": {"text": "g", "dx": -10}, "width": 570, "height": 128, "data": {"name": "g"},
     "mark": {"type": "line"},
     "encoding": {
       "x": {"field": "t", "type": "quantitative", "title": "Time (s)", "scale": {"domain": [0, 0.4], "nice": false}, "axis": {"values": [0, 0.05, 0.1, 0.15, 0.2, 0.25, 0.3, 0.35, 0.4], "format": ".2f"}},
       "y": {"field": "v", "type": "quantitative", "title": "Voltage (V)", "scale": {"domain": [0, 900], "nice": false}, "axis": {"values": [0, 200, 400, 600, 800], "titlePadding": 10}},
       "color": {"field": "s", "type": "nominal", "sort": null, "scale": {"domain": ["Ubreak = 350 V, Cin = 0 pF", "Ubreak = 700 V, Cin = 0 pF", "Ubreak = 470 V, Cin = 0 pF", "Ubreak = 470 V, Cin = 10 pF", "Ubreak = 600 V, Cin = 0 pF", "Ubreak = 470 V, Cin = 20 pF"], "range": ["#6b6bff", "#8b0000", "#7cff7c", "#7fffff", "#ff6b6b", "#a64ca6"]}, "legend": {"title": null, "orient": "none", "legendX": 19, "legendY": 3, "columns": 3, "columnPadding": 44, "rowPadding": 8, "symbolSize": 289}}
     }}
  ], "spacing": 0, "bounds": "flush"}
], "columns": 1, "spacing": 8,
"resolve": {"scale": {"color": "independent", "fill": "independent"}, "legend": {"color": "independent", "fill": "independent"}}
}
